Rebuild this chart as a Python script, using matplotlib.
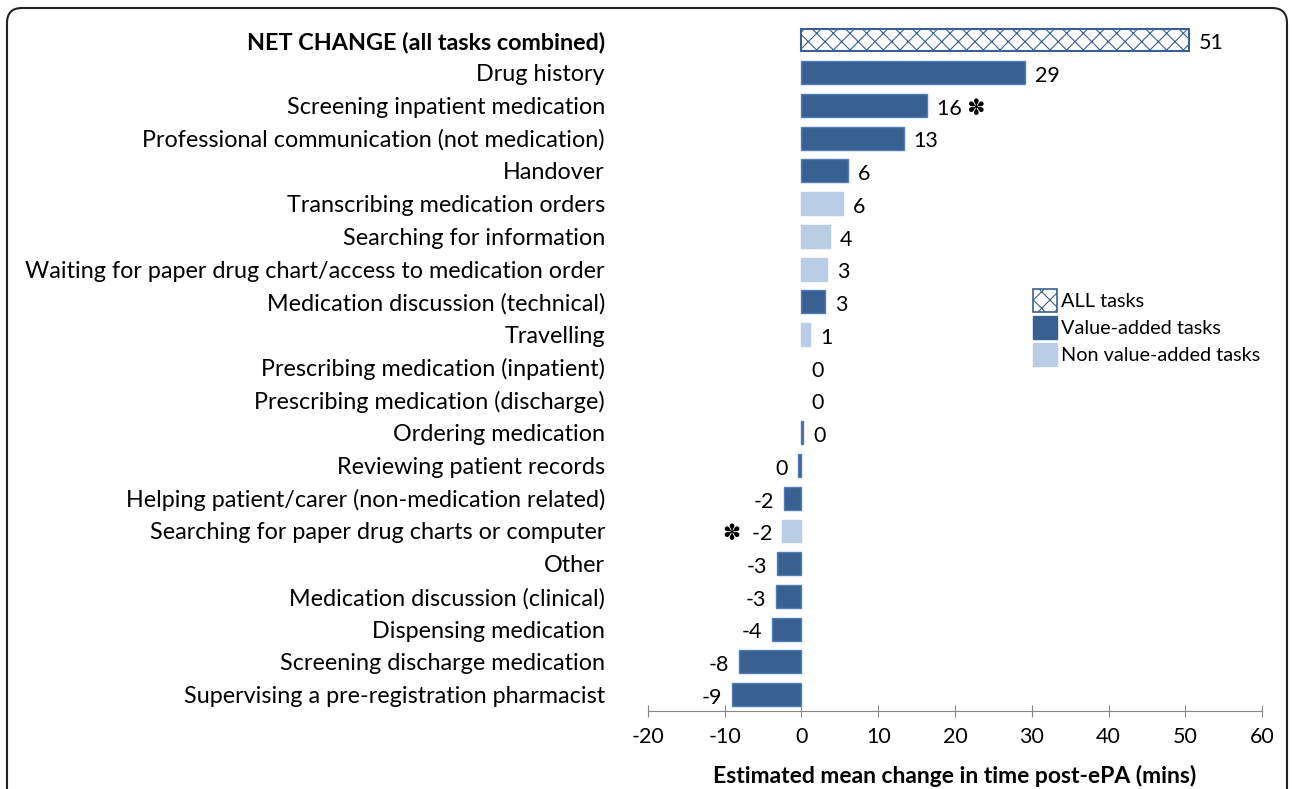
import matplotlib.pyplot as plt
from matplotlib.patches import Patch, FancyBboxPatch

tasks = ['NET CHANGE (all tasks combined)', 'Drug history', 'Screening inpatient medication',
         'Professional communication (not medication)', 'Handover', 'Transcribing medication orders',
         'Searching for information', 'Waiting for paper drug chart/access to medication order',
         'Medication discussion (technical)', 'Travelling', 'Prescribing medication (inpatient)',
         'Prescribing medication (discharge)', 'Ordering medication', 'Reviewing patient records',
         'Helping patient/carer (non-medication related)', 'Searching for paper drug charts or computer',
         'Other', 'Medication discussion (clinical)', 'Dispensing medication',
         'Screening discharge medication', 'Supervising a pre-registration pharmacist']
change = [50.5, 29.1, 16.4, 13.3, 6.1, 5.4, 3.7, 3.3, 3.1, 1.1, 0.0,
          0.0, 0.2, -0.5, -2.3, -2.5, -3.2, -3.3, -3.8, -8.1, -9.0]
labels = ['51', '29', '16', '13', '6', '6', '4', '3', '3', '1', '0',
          '0', '0', '0', '-2', '-2', '-3', '-3', '-4', '-8', '-9']
# 'all', 'value' (value-added) or 'non' (non value-added)
kind = ['all', 'value', 'value', 'value', 'value', 'non', 'non', 'non', 'value', 'non', 'value',
        'value', 'value', 'value', 'value', 'non', 'value', 'value', 'value', 'value', 'value']
significant = ['Screening inpatient medication', 'Searching for paper drug charts or computer']

DARK = '#386192'
LIGHT = '#B9CDE5'
FONT = ['Lato', 'DejaVu Sans']

plt.rcParams['font.family'] = FONT
plt.rcParams['hatch.linewidth'] = 0.8
plt.rcParams['axes.unicode_minus'] = False

fig = plt.figure(figsize=(12.92, 7.89), dpi=100)
ax = fig.add_axes([0.5015, 0.0989, 0.4753, 0.8711])

for i, (t, v, k) in enumerate(zip(tasks, change, kind)):
    lw = 0 if v == 0 else 1
    if k == 'all':
        ax.barh(i, v, height=0.7, color='white', edgecolor=DARK, hatch='xx', linewidth=1.5)
    elif k == 'value':
        ax.barh(i, v, height=0.7, color=DARK, edgecolor='#4F7DB5', linewidth=lw)
    else:
        ax.barh(i, v, height=0.7, color=LIGHT, edgecolor=LIGHT, linewidth=lw)

    txt = labels[i]
    if v >= 0:
        x, ha = v + 1.3, 'left'
        if t in significant:
            txt = txt + ' \u273d'
    else:
        x, ha = v - 1.3, 'right'
        if t in significant:
            txt = '\u273d  ' + txt
    ax.text(x, i + 0.1, txt, ha=ha, va='center', fontsize=15.5)

ax.set_xlim(-20, 60)
ax.set_ylim(len(tasks) - 0.5, -0.5)
ax.set_xticks(range(-20, 61, 10))
ax.set_yticks(range(len(tasks)))
ax.set_yticklabels(tasks, fontsize=16.8)
ax.get_yticklabels()[0].set_fontweight('bold')
ax.tick_params(axis='y', length=0, pad=31)
ax.tick_params(axis='x', direction='inout', length=9, color='#868686', labelsize=15.5, pad=7)

for s in ['top', 'right', 'left']:
    ax.spines[s].set_visible(False)
ax.spines['bottom'].set_color('#868686')

ax.set_xlabel('Estimated mean change in time post-ePA (mins)', fontsize=16.5,
              fontweight='bold', labelpad=13)

handles = [Patch(facecolor='white', edgecolor=DARK, hatch='xx', linewidth=1.2),
           Patch(facecolor=DARK, edgecolor=DARK),
           Patch(facecolor=LIGHT, edgecolor=LIGHT)]
ax.legend(handles, ['ALL tasks', 'Value-added tasks', 'Non value-added tasks'],
          loc='upper left', bbox_to_anchor=(1025 / 1292, 1 - 281 / 789),
          bbox_transform=fig.transFigure, frameon=False, fontsize=14.3,
          handlelength=1.2, handleheight=1.4, handletextpad=0.2, labelspacing=0.2,
          borderaxespad=0)

# rounded frame round the whole chart
frame = FancyBboxPatch((0.07, -0.3), 12.80, 8.11,
                       boxstyle='round,pad=0,rounding_size=0.15',
                       transform=fig.dpi_scale_trans, facecolor='none',
                       edgecolor='#222222', linewidth=1.5)
fig.patches.append(frame)

fig.savefig('out.png', dpi=100)
